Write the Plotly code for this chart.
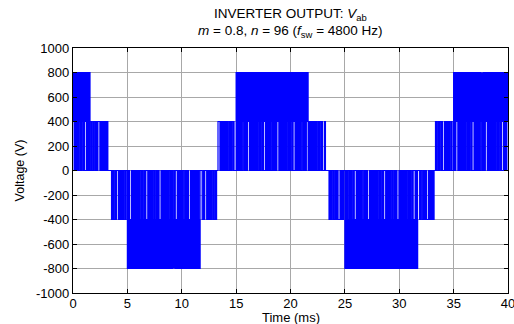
import math
import plotly.graph_objects as go

# ---- values ----
f_sw_hz = 4800                       # switching frequency (from title)
# band segments (ms) and the voltage levels the output switches between
seg_start = [0.00, 1.65, 3.35, 4.95, 11.70, 13.32, 14.90, 21.65, 23.35, 24.95, 31.70, 33.32, 34.92]
seg_end   = [1.65, 3.30, 4.95, 11.70, 13.28, 14.90, 21.65, 23.30, 24.95, 31.70, 33.28, 34.92, 40.00]
seg_low   = [0, 0, 0, 0, 0, 0, 0, 0, 0, 0, 0, 0, 0]
seg_mid   = [400, 400, -400, -400, -400, 400, 400, 400, -400, -400, -400, 400, 400]
seg_high  = [800, 400, -400, -800, -400, 400, 800, 400, -400, -800, -400, 400, 800]

x_ticks = [0, 5, 10, 15, 20, 25, 30, 35, 40]
y_ticks = [1000, 800, 600, 400, 200, 0, -200, -400, -600, -800, -1000]
y_tick_text = ["1000", "800", "600", "400", "200", "0", "-200", "-400", "-600", "-800", "-1000"]

# pulse-width pattern repeated over switching periods (fraction of period at the outer level)
duty_pattern = [0.5, 0.5, 0.45, 0.5, 0.55, 0.15, 0.5, 0.5, 0.45, 0.55, 0.5, 0.85, 0.5]
# position of the notch to the middle level inside a period (upper bands)
notch_pattern = [0.25, 0.25, 0.3, 0.25, 0.2, 0.25, 0.25, 0.05, 0.25]

# ---- build the switched waveform (step trace) ----
T = 1000.0 / f_sw_hz  # ms per switching period
xs, ys = [], []
n = 0
for s0, s1, lo, mid, hi in zip(seg_start, seg_end, seg_low, seg_mid, seg_high):
    k = math.ceil(s0 / T - 1e-9)
    while k * T < s1:
        t = max(k * T, s0)
        nxt = min((k + 1) * T, s1)
        d = duty_pattern[n % len(duty_pattern)]
        qf = notch_pattern[n % len(notch_pattern)]
        n += 1
        off = t + d * (nxt - t)
        if hi != mid:
            q = t + qf * (nxt - t)
            xs += [t, q, q + 0.5 * (nxt - t), off]
            ys += [hi, mid, hi, lo]
        else:
            xs += [t, off]
            ys += [hi, lo]
        k += 1
    xs.append(s1)
    ys.append(lo)

fig = go.Figure()
fig.add_trace(go.Scatter(x=xs, y=ys, mode="lines", line=dict(color="#0000ff", width=1.2, shape="hv"),
                         hoverinfo="skip", showlegend=False))

font_family = "Liberation Sans, Arial, sans-serif"
fig.update_layout(
    width=514, height=324,
    margin=dict(l=73, r=6, t=48, b=31),
    paper_bgcolor="white", plot_bgcolor="white",
    font=dict(family=font_family, size=13, color="black"),
)
fig.add_annotation(text="INVERTER OUTPUT: <i>V</i><sub>ab</sub>", xref="paper", yref="paper",
                   x=0.5, y=1.135, xanchor="center", yanchor="middle", showarrow=False,
                   font=dict(size=13.5, family=font_family))
fig.add_annotation(text="<i>m</i> = 0.8, <i>n</i> = 96 (<i>f</i><sub>sw</sub> = 4800 Hz)", xref="paper", yref="paper",
                   x=0.5, y=1.066, xanchor="center", yanchor="middle", showarrow=False,
                   font=dict(size=13.5, family=font_family))
fig.add_annotation(text="Time (ms)", xref="paper", yref="paper",
                   x=0.5, y=-0.1, xanchor="center", yanchor="middle", showarrow=False,
                   font=dict(size=13, family=font_family))
fig.update_xaxes(
    range=[0, 40], tickvals=x_ticks, ticktext=[str(v) for v in x_ticks], automargin=False,
    ticklabeloverflow="allow", ticklabelstandoff=-2,
    ticks="inside", ticklen=4, tickcolor="black", mirror="ticks",
    showline=True, linecolor="black", linewidth=1.3,
    showgrid=True, gridcolor="#a8a8a8", gridwidth=1, zeroline=False,
)
fig.update_yaxes(
    range=[-1000, 1000], tickvals=y_ticks, ticktext=y_tick_text, automargin=False,
    ticks="inside", ticklen=4, tickcolor="black", mirror="ticks",
    showline=True, linecolor="black", linewidth=1.3,
    showgrid=True, gridcolor="#a8a8a8", gridwidth=1, zeroline=False,
    title=dict(text="Voltage (V)", standoff=8, font=dict(size=12.5)),
)
fig.write_html("out.html")
